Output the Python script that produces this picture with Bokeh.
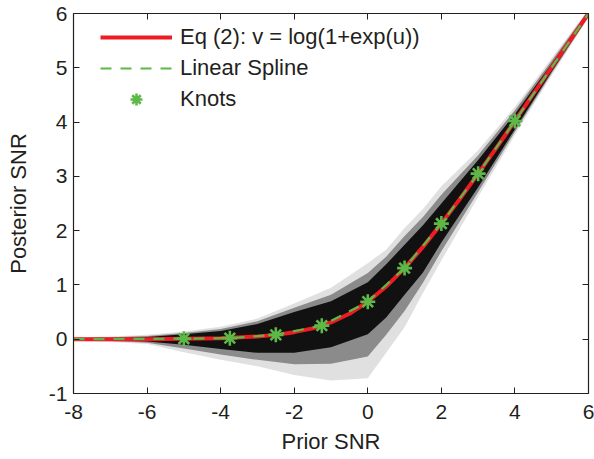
from bokeh.plotting import figure
from bokeh.models import (LinearAxis, FixedTicker, Range1d, Legend, LegendItem,
                          CustomJSTickFormatter)
from bokeh.embed import file_html
from bokeh.resources import INLINE

# ---- data ----
x_ticks = [-8, -6, -4, -2, 0, 2, 4, 6]
y_ticks = [-1, 0, 1, 2, 3, 4, 5, 6]
x_tick_labels = ["-8", "-6", "-4", "-2", "0", "2", "4", "6"]
y_tick_labels = ["-1", "0", "1", "2", "3", "4", "5", "6"]

# scatter-cloud envelopes (outer = faint, mid = medium, core = dense)
cloud_x  = [-8, -7, -6, -5, -4, -3, -2, -1, 0, 0.5, 1, 1.5, 2, 3, 4, 5, 6]
outer_hi = [0.03, 0.05, 0.08, 0.14, 0.23, 0.38, 0.66, 0.95, 1.40, 1.65, 2.05, 2.40, 2.82, 3.48, 4.28, 5.18, 6.08]
outer_lo = [-0.03, -0.05, -0.09, -0.24, -0.38, -0.50, -0.66, -0.76, -0.72, -0.25, 0.22, 0.85, 1.45, 2.62, 3.76, 4.86, 5.92]
mid_hi   = [0.02, 0.035, 0.06, 0.115, 0.19, 0.33, 0.58, 0.82, 1.22, 1.52, 1.90, 2.25, 2.66, 3.39, 4.22, 5.13, 6.06]
mid_lo   = [-0.02, -0.035, -0.065, -0.17, -0.28, -0.38, -0.46, -0.45, -0.32, 0.08, 0.52, 1.04, 1.62, 2.71, 3.82, 4.90, 5.94]
core_hi  = [0.01, 0.02, 0.04, 0.09, 0.15, 0.28, 0.50, 0.70, 1.05, 1.38, 1.74, 2.10, 2.50, 3.30, 4.15, 5.08, 6.04]
core_lo  = [-0.01, -0.02, -0.04, -0.10, -0.18, -0.25, -0.25, -0.15, 0.09, 0.40, 0.82, 1.23, 1.78, 2.80, 3.87, 4.93, 5.96]

# Eq (2) curve
curve_x = [-8, -7, -6, -5, -4, -3, -2.5, -2, -1.5, -1, -0.5, 0, 0.5, 1, 1.5, 2, 2.5, 3, 3.5, 4, 5, 6]
curve_y = [0.00, 0.00, 0.00, 0.01, 0.02, 0.05, 0.08, 0.13, 0.20, 0.31, 0.47, 0.69, 0.97, 1.31, 1.70,
           2.13, 2.58, 3.05, 3.53, 4.02, 5.01, 6.00]

# linear spline through knots
spline_x = [-8, -5, -3.75, -2.5, -1.25, 0, 1, 2, 3, 4, 6]
spline_y = [0.00, 0.01, 0.02, 0.08, 0.25, 0.69, 1.31, 2.13, 3.05, 4.02, 6.00]

knot_x = [-5, -3.75, -2.5, -1.25, 0, 1, 2, 3, 4]
knot_y = [0.01, 0.02, 0.08, 0.25, 0.69, 1.31, 2.13, 3.05, 4.02]

# ---- styles ----
FONT = "Liberation Sans"
TXT = "#231f20"
RED = "#ed1c24"
GREEN = "#5cb947"

p = figure(width=594, height=459, x_range=Range1d(-8, 6), y_range=Range1d(-1, 6),
           output_backend="svg", toolbar_location=None,
           min_border_left=73, min_border_right=6, min_border_top=13, min_border_bottom=66,
           x_axis_label="Prior SNR", y_axis_label="Posterior SNR")
p.grid.visible = False
p.outline_line_color = None
p.background_fill_color = "white"
p.border_fill_color = "white"

for ax in (p.xaxis[0], p.yaxis[0]):
    ax.major_tick_in = 6
    ax.major_tick_out = 0
    ax.minor_tick_line_color = None
    ax.axis_line_color = TXT
    ax.major_tick_line_color = TXT
    ax.axis_line_width = 1.2
    ax.major_label_text_font = FONT
    ax.major_label_text_font_size = "21px"
    ax.major_label_text_color = TXT
    ax.axis_label_text_font = FONT
    ax.axis_label_text_font_size = "22px"
    ax.axis_label_text_font_style = "normal"
    ax.axis_label_text_color = TXT
p.xaxis[0].ticker = FixedTicker(ticks=x_ticks)
p.yaxis[0].ticker = FixedTicker(ticks=y_ticks)
p.xaxis[0].major_label_overrides = dict(zip(x_ticks, x_tick_labels))
p.yaxis[0].major_label_overrides = dict(zip(y_ticks, y_tick_labels))
p.xaxis[0].major_label_standoff = 11
p.xaxis[0].axis_label_standoff = 7
p.yaxis[0].major_label_standoff = 6
p.yaxis[0].axis_label_standoff = 15

blank = CustomJSTickFormatter(code="return ''")
top = LinearAxis(ticker=FixedTicker(ticks=x_ticks), formatter=blank)
right = LinearAxis(ticker=FixedTicker(ticks=y_ticks), formatter=blank)
for ax in (top, right):
    ax.major_tick_in = 6
    ax.major_tick_out = 0
    ax.minor_tick_line_color = None
    ax.axis_line_color = TXT
    ax.major_tick_line_color = TXT
    ax.axis_line_width = 1.2
    ax.major_label_text_font_size = "0px"
    ax.major_label_standoff = 0
p.add_layout(top, "above")
p.add_layout(right, "right")

# cloud
p.varea(x=cloud_x, y1=outer_lo, y2=outer_hi, fill_color="black", fill_alpha=0.12)
p.varea(x=cloud_x, y1=mid_lo, y2=mid_hi, fill_color="black", fill_alpha=0.38)
p.varea(x=cloud_x, y1=core_lo, y2=core_hi, fill_color="black", fill_alpha=0.88)

r_curve = p.line(curve_x, curve_y, line_color=RED, line_width=4)
r_spline = p.line(spline_x, spline_y, line_color=GREEN, line_width=2.2, line_dash="11 9")
r_knots = p.scatter(knot_x, knot_y, marker="asterisk", size=15, line_color=GREEN, line_width=2.6)

legend = Legend(items=[
    LegendItem(label="Eq (2): v = log(1+exp(u))", renderers=[r_curve]),
    LegendItem(label="Linear Spline", renderers=[r_spline]),
    LegendItem(label="Knots", renderers=[r_knots]),
], location=(27, 279), orientation="vertical")
legend.border_line_color = None
legend.background_fill_alpha = 0
legend.padding = 0
legend.margin = 0
legend.spacing = 1
legend.glyph_width = 72
legend.glyph_height = 30
legend.label_height = 30
legend.label_standoff = 8
legend.label_text_font = FONT
legend.label_text_font_size = "22px"
legend.label_text_color = TXT
p.add_layout(legend, "center")

open("out.html", "w").write(file_html(p, INLINE))
